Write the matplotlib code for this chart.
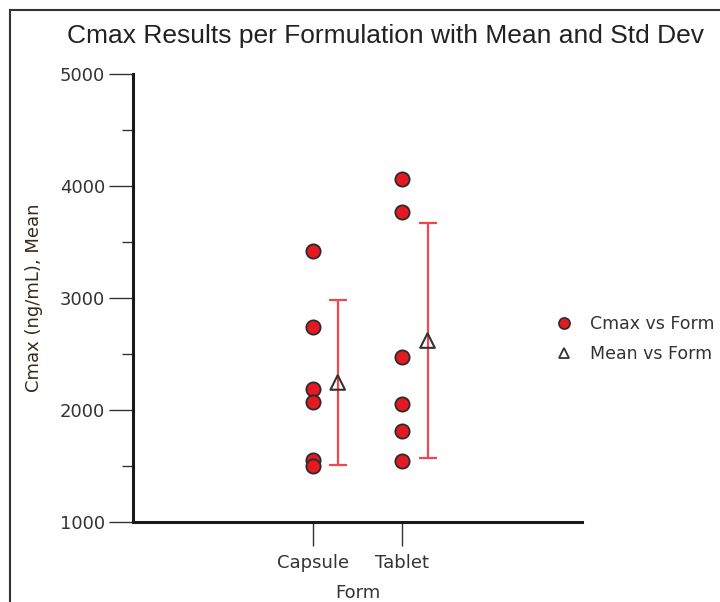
import matplotlib.pyplot as plt
from matplotlib.lines import Line2D
from matplotlib.ticker import MultipleLocator

forms = ["Capsule", "Tablet"]
capsule_cmax = [3422, 2744, 2185, 2069, 1554, 1500]
tablet_cmax = [4063, 3771, 2476, 2051, 1815, 1545]
means = [2246, 2620]
sds = [735, 1053]

pos = [0, 1]
off = 0.28

plt.rcParams['font.family'] = ['Liberation Sans', 'DejaVu Sans']
uifont = ['DejaVu Sans']

fig = plt.figure(figsize=(7.2, 6.02), dpi=100)
ax = fig.add_axes([0.1847, 0.1329, 0.6236, 0.7442])

# screenshot frame lines
fig.add_artist(Line2D([10/720, 10/720], [0, 1 - 10/602], transform=fig.transFigure, color='#333333', lw=1.5))
fig.add_artist(Line2D([10/720, 1], [1 - 10/602, 1 - 10/602], transform=fig.transFigure, color='#333333', lw=1.5))

ax.errorbar([p + off for p in pos], means, yerr=sds, fmt='none', ecolor='#f0484f',
            elinewidth=1.6, capsize=6.5, capthick=1.6, zorder=2)

ax.scatter([pos[0]] * len(capsule_cmax), capsule_cmax, s=105, c='#e31a22',
           edgecolors='#2b2b2b', linewidths=1.3, zorder=3)
ax.scatter([pos[1]] * len(tablet_cmax), tablet_cmax, s=105, c='#e31a22',
           edgecolors='#2b2b2b', linewidths=1.3, zorder=3)
ax.scatter([p + off for p in pos], means, s=110, marker='^', facecolors='none',
           edgecolors='#333333', linewidths=1.5, zorder=4)

ax.set_xlim(-2, 3)
ax.set_ylim(1000, 5000)
ax.set_xticks(pos)
ax.set_xticklabels(forms)
ax.set_yticks([1000, 2000, 3000, 4000, 5000])
ax.yaxis.set_minor_locator(MultipleLocator(500))

for s in ['top', 'right']:
    ax.spines[s].set_visible(False)
for s in ['left', 'bottom']:
    ax.spines[s].set_linewidth(2.2)
    ax.spines[s].set_color('#1a1a1a')

ax.tick_params(axis='both', which='major', length=17, width=1, color='#333333',
               labelsize=13, labelcolor='#333333')
ax.tick_params(axis='y', which='major', pad=3)
ax.tick_params(axis='x', which='major', pad=6)
ax.tick_params(axis='y', which='minor', length=8, width=1, color='#333333')
ax.tick_params(axis='x', which='minor', bottom=False)

for lbl in ax.get_xticklabels() + ax.get_yticklabels():
    lbl.set_family(uifont)

ax.set_xlabel('Form', fontsize=13, color='#333333', family=uifont, labelpad=9)
ax.set_ylabel('Cmax (ng/mL), Mean', fontsize=13, color='#3a2a1a', family=uifont, labelpad=12)

fig.text(0.535, 0.941, 'Cmax Results per Formulation with Mean and Std Dev', ha='center', va='center',
         fontsize=19, color='#222222')

handles = [
    Line2D([], [], marker='o', linestyle='none', markersize=8, markerfacecolor='#e31a22',
           markeredgecolor='#2b2b2b', markeredgewidth=1.2, label='Cmax vs Form'),
    Line2D([], [], marker='^', linestyle='none', markersize=7, markerfacecolor='none',
           markeredgecolor='#333333', markeredgewidth=1.3, label='Mean vs Form'),
]
leg = fig.legend(handles=handles, loc='center left', bbox_to_anchor=(0.737, 0.437), frameon=False,
                 prop={'family': uifont, 'size': 12.5}, handletextpad=0.5,
                 labelspacing=0.7, labelcolor='#333333')

fig.savefig('out.png', dpi=100)
